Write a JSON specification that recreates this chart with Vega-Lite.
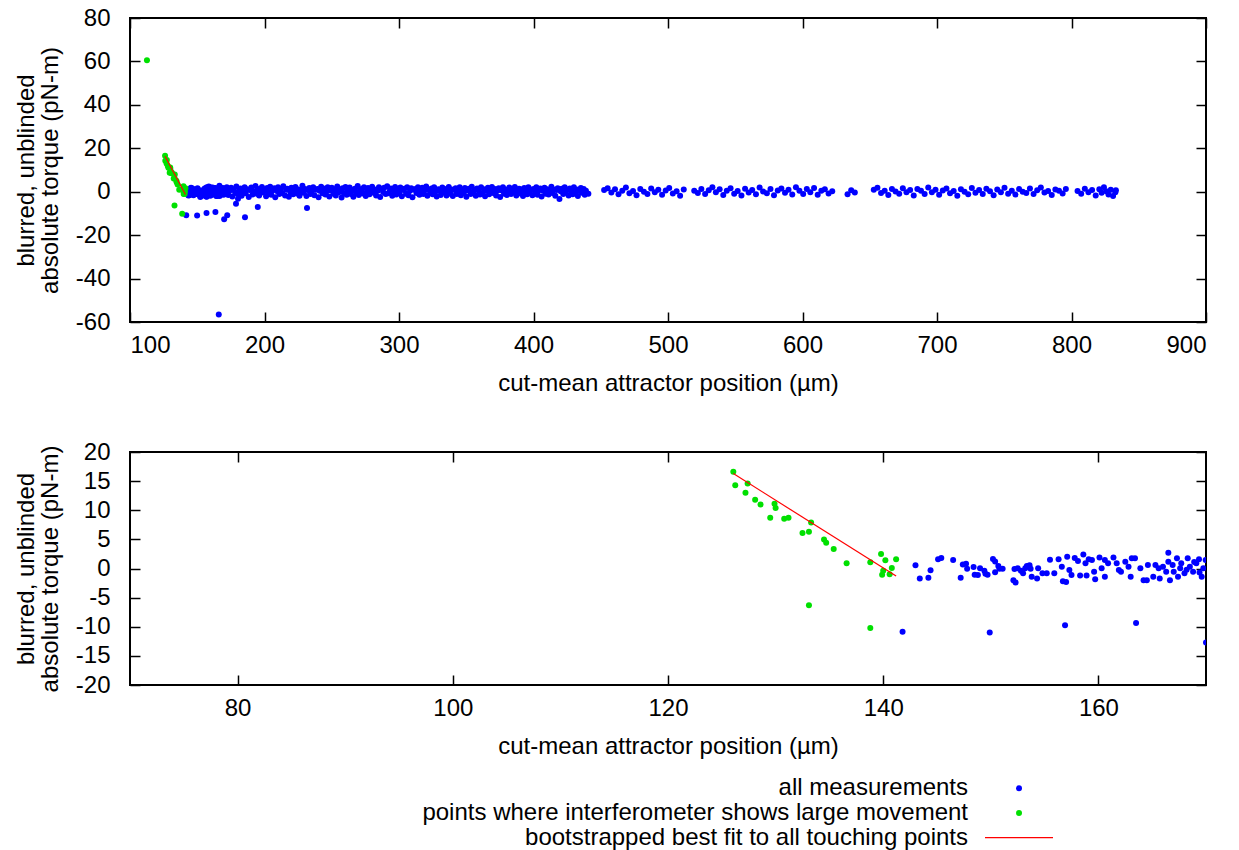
{
  "$schema": "https://vega.github.io/schema/vega-lite/v6.json",
  "background": "white",
  "padding": {"left": 13, "top": 5, "right": 5, "bottom": 5},
  "config": {
    "font": "Liberation Sans",
    "view": {"stroke": "#000", "strokeWidth": 2},
    "axis": {
      "domain": false, "grid": false,
      "labelFont": "Liberation Sans", "labelFontSize": 24, "labelColor": "#000",
      "titleFont": "Liberation Sans", "titleFontSize": 24, "titleFontWeight": "normal", "titleColor": "#000",
      "tickColor": "#000", "tickSize": -10, "tickWidth": 1.5, "labelPadding": 21,
      "labelExpr": "'' + datum.value"
    },
    "axisX": {"titlePadding": 14},
    "axisY": {"titlePadding": 13, "titleLineHeight": 24, "labelPadding": 30}
  },
  "datasets": {
    "meas": [
      {"x":143.0,"y":0.55,"k":"a"},{"x":143.4,"y":-1.7,"k":"a"},{"x":144.2,"y":-1.6,"k":"a"},{"x":144.4,"y":-0.3,"k":"a"},{"x":145.1,"y":1.6,"k":"a"},{"x":145.4,"y":1.8,"k":"a"},{"x":146.5,"y":1.46,"k":"a"},{"x":147.2,"y":-1.6,"k":"a"},{"x":147.4,"y":0.7,"k":"a"},{"x":147.7,"y":0.8,"k":"a"},{"x":147.8,"y":-0.03,"k":"a"},{"x":148.4,"y":0.26,"k":"a"},{"x":148.5,"y":-1.06,"k":"a"},{"x":148.8,"y":-1.1,"k":"a"},{"x":149.0,"y":0.03,"k":"a"},{"x":149.4,"y":-0.4,"k":"a"},{"x":149.5,"y":-0.9,"k":"a"},{"x":149.7,"y":-1.06,"k":"a"},{"x":150.2,"y":1.63,"k":"a"},{"x":150.4,"y":1.2,"k":"a"},{"x":150.7,"y":0.43,"k":"a"},{"x":150.8,"y":-0.03,"k":"a"},{"x":151.1,"y":-0.03,"k":"a"},{"x":150.4,"y":-0.65,"k":"a"},{"x":152.1,"y":-2.0,"k":"a"},{"x":152.3,"y":-2.4,"k":"a"},{"x":152.2,"y":-0.1,"k":"a"},{"x":152.5,"y":0.03,"k":"a"},{"x":152.8,"y":-0.4,"k":"a"},{"x":153.0,"y":-0.8,"k":"a"},{"x":153.2,"y":0.03,"k":"a"},{"x":153.35,"y":0.43,"k":"a"},{"x":153.6,"y":0.55,"k":"a"},{"x":153.7,"y":-0.03,"k":"a"},{"x":153.8,"y":-1.4,"k":"a"},{"x":154.4,"y":0.03,"k":"a"},{"x":154.3,"y":-1.7,"k":"a"},{"x":154.8,"y":-0.8,"k":"a"},{"x":155.2,"y":-0.8,"k":"a"},{"x":155.5,"y":1.5,"k":"a"},{"x":155.9,"y":-0.8,"k":"a"},{"x":156.3,"y":1.6,"k":"a"},{"x":156.6,"y":0.3,"k":"a"},{"x":156.7,"y":-2.2,"k":"a"},{"x":157.0,"y":-2.3,"k":"a"},{"x":157.1,"y":2.0,"k":"a"},{"x":157.3,"y":-0.26,"k":"a"},{"x":157.5,"y":-1.1,"k":"a"},{"x":157.8,"y":1.8,"k":"a"},{"x":158.1,"y":1.3,"k":"a"},{"x":158.3,"y":-1.2,"k":"a"},{"x":158.6,"y":2.4,"k":"a"},{"x":158.8,"y":0.9,"k":"a"},{"x":159.1,"y":1.6,"k":"a"},{"x":159.4,"y":1.46,"k":"a"},{"x":159.6,"y":-0.55,"k":"a"},{"x":158.9,"y":-1.2,"k":"a"},{"x":159.7,"y":-1.85,"k":"a"},{"x":160.1,"y":1.9,"k":"a"},{"x":160.3,"y":0.03,"k":"a"},{"x":160.6,"y":-1.4,"k":"a"},{"x":160.6,"y":1.46,"k":"a"},{"x":160.9,"y":0.9,"k":"a"},{"x":161.4,"y":1.9,"k":"a"},{"x":161.7,"y":0.9,"k":"a"},{"x":161.9,"y":-0.26,"k":"a"},{"x":162.1,"y":-0.55,"k":"a"},{"x":162.5,"y":1.17,"k":"a"},{"x":162.8,"y":0.3,"k":"a"},{"x":163.0,"y":-1.4,"k":"a"},{"x":163.1,"y":1.75,"k":"a"},{"x":163.4,"y":1.75,"k":"a"},{"x":163.9,"y":0.03,"k":"a"},{"x":164.2,"y":-2.0,"k":"a"},{"x":164.5,"y":-2.0,"k":"a"},{"x":164.6,"y":0.6,"k":"a"},{"x":165.1,"y":-1.4,"k":"a"},{"x":165.3,"y":0.6,"k":"a"},{"x":165.6,"y":0.03,"k":"a"},{"x":165.7,"y":-1.7,"k":"a"},{"x":166.0,"y":0.3,"k":"a"},{"x":166.3,"y":-0.55,"k":"a"},{"x":166.5,"y":1.17,"k":"a"},{"x":166.5,"y":2.7,"k":"a"},{"x":166.65,"y":-2.0,"k":"a"},{"x":167.0,"y":-0.55,"k":"a"},{"x":167.3,"y":1.75,"k":"a"},{"x":167.4,"y":-1.4,"k":"a"},{"x":167.6,"y":0.03,"k":"a"},{"x":167.7,"y":0.9,"k":"a"},{"x":168.0,"y":-0.8,"k":"a"},{"x":168.3,"y":1.75,"k":"a"},{"x":168.5,"y":0.3,"k":"a"},{"x":168.8,"y":-0.55,"k":"a"},{"x":169.1,"y":0.9,"k":"a"},{"x":169.35,"y":1.6,"k":"a"},{"x":169.6,"y":-1.4,"k":"a"},{"x":169.75,"y":0.03,"k":"a"},{"x":169.97,"y":1.46,"k":"a"},
      {"x":166.9,"y":0.6,"k":"a"},{"x":168.2,"y":-0.2,"k":"a"},{"x":168.9,"y":1.1,"k":"a"},{"x":169.4,"y":-0.7,"k":"a"},
      {"x":141.8,"y":-10.85,"k":"a"},{"x":149.9,"y":-11.0,"k":"a"},{"x":156.9,"y":-9.76,"k":"a"},{"x":163.5,"y":-9.36,"k":"a"},{"x":170.0,"y":-12.7,"k":"a"},{"x":172.3,"y":-10.8,"k":"a"},{"x":185.5,"y":-11.8,"k":"a"},{"x":166.0,"y":-56.6,"k":"a"},{"x":178.8,"y":-5.5,"k":"a"},{"x":180.3,"y":-3.2,"k":"a"},{"x":195.0,"y":-7.0,"k":"a"},{"x":231.6,"y":-7.5,"k":"a"},
      {"x":170.5,"y":1.2,"k":"a"},{"x":171.2,"y":-0.8,"k":"a"},{"x":172.0,"y":2.1,"k":"a"},{"x":173.1,"y":-1.5,"k":"a"},{"x":174.0,"y":0.4,"k":"a"},{"x":175.2,"y":1.8,"k":"a"},{"x":176.1,"y":-2.2,"k":"a"},{"x":177.0,"y":0.9,"k":"a"},{"x":178.2,"y":-0.3,"k":"a"},{"x":179.1,"y":2.4,"k":"a"},{"x":180.0,"y":-1.1,"k":"a"},{"x":181.3,"y":0.6,"k":"a"},{"x":182.2,"y":1.5,"k":"a"},{"x":183.0,"y":-1.9,"k":"a"},{"x":184.1,"y":0.2,"k":"a"},{"x":185.2,"y":2.0,"k":"a"},{"x":186.0,"y":-0.7,"k":"a"},{"x":187.1,"y":1.1,"k":"a"},{"x":188.3,"y":-2.4,"k":"a"},{"x":189.0,"y":0.8,"k":"a"},{"x":190.2,"y":1.9,"k":"a"},{"x":191.1,"y":-1.3,"k":"a"},{"x":192.0,"y":0.1,"k":"a"},{"x":193.3,"y":2.6,"k":"a"},{"x":194.1,"y":-0.9,"k":"a"},{"x":195.2,"y":1.3,"k":"a"},{"x":196.0,"y":-1.8,"k":"a"},{"x":197.2,"y":0.5,"k":"a"},{"x":198.1,"y":2.2,"k":"a"},{"x":199.0,"y":-0.4,"k":"a"},{"x":200.3,"y":1.0,"k":"a"},{"x":201.2,"y":-2.1,"k":"a"},{"x":202.0,"y":1.7,"k":"a"},{"x":203.1,"y":-0.2,"k":"a"},{"x":204.2,"y":2.3,"k":"a"},{"x":205.0,"y":-1.4,"k":"a"},{"x":206.1,"y":0.7,"k":"a"},{"x":207.3,"y":1.6,"k":"a"},{"x":208.0,"y":-2.6,"k":"a"},{"x":209.2,"y":0.3,"k":"a"},{"x":210.1,"y":2.0,"k":"a"},{"x":211.0,"y":-1.0,"k":"a"},{"x":212.2,"y":1.2,"k":"a"},{"x":213.1,"y":-0.6,"k":"a"},{"x":214.0,"y":2.5,"k":"a"},{"x":215.3,"y":-1.7,"k":"a"},{"x":216.2,"y":0.9,"k":"a"},{"x":217.0,"y":1.4,"k":"a"},{"x":218.1,"y":-2.3,"k":"a"},{"x":219.2,"y":0.0,"k":"a"},{"x":220.0,"y":1.8,"k":"a"},{"x":221.3,"y":-1.2,"k":"a"},{"x":222.1,"y":0.6,"k":"a"},{"x":223.0,"y":2.2,"k":"a"},{"x":224.2,"y":-0.8,"k":"a"},{"x":225.1,"y":1.0,"k":"a"},{"x":226.0,"y":-1.9,"k":"a"},{"x":227.3,"y":0.4,"k":"a"},{"x":228.2,"y":2.7,"k":"a"},{"x":229.0,"y":-0.5,"k":"a"},{"x":230.1,"y":1.3,"k":"a"},{"x":231.2,"y":-2.0,"k":"a"},{"x":232.0,"y":0.8,"k":"a"},{"x":233.3,"y":1.7,"k":"a"},{"x":234.1,"y":-1.1,"k":"a"},{"x":235.0,"y":0.2,"k":"a"},{"x":236.2,"y":2.1,"k":"a"},{"x":237.1,"y":-1.6,"k":"a"},{"x":238.0,"y":0.9,"k":"a"},{"x":239.3,"y":1.2,"k":"a"},{"x":240.2,"y":-2.5,"k":"a"},{"x":241.0,"y":0.5,"k":"a"},{"x":242.1,"y":2.3,"k":"a"},{"x":243.2,"y":-0.7,"k":"a"},{"x":244.0,"y":1.5,"k":"a"},{"x":245.3,"y":-1.3,"k":"a"},{"x":246.1,"y":0.1,"k":"a"},{"x":247.0,"y":2.0,"k":"a"},{"x":248.2,"y":-2.2,"k":"a"},{"x":249.1,"y":0.7,"k":"a"},{"x":250.0,"y":1.8,"k":"a"},{"x":251.3,"y":-0.9,"k":"a"},{"x":252.2,"y":1.1,"k":"a"},{"x":253.0,"y":-1.8,"k":"a"},{"x":254.1,"y":2.4,"k":"a"},{"x":255.2,"y":-0.3,"k":"a"},{"x":256.0,"y":0.9,"k":"a"},{"x":257.3,"y":-2.7,"k":"a"},{"x":258.1,"y":1.6,"k":"a"},{"x":259.0,"y":-0.6,"k":"a"},{"x":260.2,"y":2.2,"k":"a"},{"x":261.1,"y":-1.4,"k":"a"},{"x":262.0,"y":0.4,"k":"a"},{"x":263.3,"y":1.9,"k":"a"},{"x":264.2,"y":-1.0,"k":"a"},{"x":265.0,"y":0.8,"k":"a"},{"x":266.1,"y":-2.3,"k":"a"},{"x":267.2,"y":1.4,"k":"a"},{"x":268.0,"y":-0.2,"k":"a"},{"x":269.3,"y":2.6,"k":"a"},{"x":270.1,"y":-1.5,"k":"a"},{"x":271.0,"y":0.6,"k":"a"},{"x":272.2,"y":1.2,"k":"a"},{"x":273.1,"y":-0.8,"k":"a"},{"x":274.0,"y":2.0,"k":"a"},{"x":275.3,"y":-2.0,"k":"a"},{"x":276.2,"y":0.3,"k":"a"},{"x":277.0,"y":1.7,"k":"a"},{"x":278.1,"y":-1.2,"k":"a"},{"x":279.2,"y":0.9,"k":"a"},{"x":280.0,"y":2.3,"k":"a"},{"x":281.3,"y":-0.5,"k":"a"},{"x":282.1,"y":1.0,"k":"a"},{"x":283.0,"y":-1.7,"k":"a"},{"x":284.2,"y":0.5,"k":"a"},{"x":285.1,"y":2.1,"k":"a"},{"x":286.0,"y":-2.4,"k":"a"},{"x":287.3,"y":1.3,"k":"a"},{"x":288.2,"y":-0.1,"k":"a"},{"x":289.0,"y":1.8,"k":"a"},{"x":290.1,"y":-1.1,"k":"a"},{"x":291.2,"y":2.5,"k":"a"},{"x":292.0,"y":-0.7,"k":"a"},{"x":293.3,"y":0.7,"k":"a"},{"x":294.1,"y":1.5,"k":"a"},{"x":295.0,"y":-1.9,"k":"a"},{"x":296.2,"y":0.2,"k":"a"},{"x":297.1,"y":2.2,"k":"a"},{"x":298.0,"y":-1.3,"k":"a"},{"x":299.3,"y":1.1,"k":"a"},{"x":300.2,"y":-0.4,"k":"a"},{"x":301.0,"y":1.9,"k":"a"},{"x":302.1,"y":-2.1,"k":"a"},{"x":303.2,"y":0.8,"k":"a"},{"x":304.0,"y":1.4,"k":"a"},{"x":305.3,"y":-0.9,"k":"a"},{"x":306.1,"y":2.0,"k":"a"},{"x":307.0,"y":-1.6,"k":"a"},{"x":308.2,"y":0.4,"k":"a"},{"x":309.1,"y":1.6,"k":"a"},{"x":310.0,"y":-2.5,"k":"a"},{"x":311.3,"y":0.9,"k":"a"},{"x":312.2,"y":1.2,"k":"a"},{"x":313.0,"y":-0.6,"k":"a"},{"x":314.1,"y":2.1,"k":"a"},{"x":315.2,"y":-1.4,"k":"a"},{"x":316.0,"y":0.3,"k":"a"},{"x":317.3,"y":1.8,"k":"a"},{"x":318.1,"y":-1.0,"k":"a"},{"x":319.0,"y":0.6,"k":"a"},{"x":320.2,"y":2.4,"k":"a"},{"x":321.1,"y":-1.9,"k":"a"},{"x":322.0,"y":0.9,"k":"a"},{"x":323.3,"y":-0.3,"k":"a"},{"x":324.2,"y":1.5,"k":"a"},{"x":325.0,"y":-1.2,"k":"a"},{"x":326.1,"y":2.0,"k":"a"},{"x":327.2,"y":0.1,"k":"a"},{"x":328.0,"y":-2.2,"k":"a"},{"x":329.3,"y":1.1,"k":"a"},{"x":330.1,"y":0.7,"k":"a"},{"x":331.0,"y":-1.5,"k":"a"},{"x":332.2,"y":1.9,"k":"a"},{"x":333.1,"y":-0.4,"k":"a"},{"x":334.0,"y":1.3,"k":"a"},{"x":335.3,"y":-1.8,"k":"a"},{"x":336.2,"y":0.5,"k":"a"},{"x":337.0,"y":2.2,"k":"a"},{"x":338.1,"y":-0.9,"k":"a"},{"x":339.2,"y":1.0,"k":"a"},{"x":340.0,"y":-2.0,"k":"a"},{"x":341.3,"y":0.8,"k":"a"},{"x":342.1,"y":1.6,"k":"a"},{"x":343.0,"y":-1.1,"k":"a"},{"x":344.2,"y":0.2,"k":"a"},{"x":345.1,"y":2.1,"k":"a"},{"x":346.0,"y":-1.6,"k":"a"},{"x":347.3,"y":0.9,"k":"a"},{"x":348.2,"y":-0.5,"k":"a"},{"x":349.0,"y":1.7,"k":"a"},{"x":350.1,"y":-2.3,"k":"a"},{"x":351.2,"y":0.6,"k":"a"},{"x":352.0,"y":1.4,"k":"a"},{"x":353.3,"y":-1.0,"k":"a"},{"x":354.1,"y":2.3,"k":"a"},{"x":355.0,"y":-0.2,"k":"a"},{"x":356.2,"y":0.8,"k":"a"},{"x":357.1,"y":-1.9,"k":"a"},{"x":358.0,"y":1.5,"k":"a"},{"x":359.3,"y":0.3,"k":"a"},{"x":360.2,"y":-1.3,"k":"a"},{"x":361.0,"y":2.0,"k":"a"},{"x":362.1,"y":-0.7,"k":"a"},{"x":363.2,"y":1.1,"k":"a"},{"x":364.0,"y":-2.1,"k":"a"},{"x":365.3,"y":0.4,"k":"a"},{"x":366.1,"y":1.8,"k":"a"},{"x":367.0,"y":-1.2,"k":"a"},{"x":368.2,"y":0.9,"k":"a"},{"x":369.1,"y":2.2,"k":"a"},{"x":370.0,"y":-0.6,"k":"a"},{"x":371.3,"y":1.2,"k":"a"},{"x":372.2,"y":-1.7,"k":"a"},{"x":373.0,"y":0.5,"k":"a"},{"x":374.1,"y":1.6,"k":"a"},{"x":375.2,"y":-2.4,"k":"a"},{"x":376.0,"y":0.7,"k":"a"},{"x":377.3,"y":2.0,"k":"a"},{"x":378.1,"y":-0.9,"k":"a"},{"x":379.0,"y":1.0,"k":"a"},{"x":380.2,"y":-1.5,"k":"a"},{"x":381.1,"y":0.2,"k":"a"},{"x":382.0,"y":1.9,"k":"a"},{"x":383.3,"y":-1.1,"k":"a"},{"x":384.2,"y":0.8,"k":"a"},{"x":385.0,"y":-0.3,"k":"a"},{"x":386.1,"y":2.2,"k":"a"},{"x":387.2,"y":-1.8,"k":"a"},{"x":388.0,"y":0.6,"k":"a"},{"x":389.3,"y":1.4,"k":"a"},{"x":390.1,"y":-0.8,"k":"a"},{"x":391.0,"y":1.0,"k":"a"},{"x":392.2,"y":-2.0,"k":"a"},{"x":393.1,"y":1.7,"k":"a"},{"x":394.0,"y":0.1,"k":"a"},{"x":395.3,"y":-1.2,"k":"a"},{"x":396.2,"y":2.1,"k":"a"},{"x":397.0,"y":-0.5,"k":"a"},{"x":398.1,"y":0.9,"k":"a"},{"x":399.2,"y":-1.6,"k":"a"},{"x":400.0,"y":1.3,"k":"a"},{"x":401.3,"y":-0.2,"k":"a"},{"x":402.1,"y":2.0,"k":"a"},{"x":403.0,"y":-1.4,"k":"a"},{"x":404.2,"y":0.7,"k":"a"},{"x":405.1,"y":1.5,"k":"a"},{"x":406.0,"y":-2.2,"k":"a"},{"x":407.3,"y":0.4,"k":"a"},{"x":408.2,"y":1.8,"k":"a"},{"x":409.0,"y":-0.9,"k":"a"},{"x":410.1,"y":1.1,"k":"a"},{"x":411.2,"y":-1.3,"k":"a"},{"x":412.0,"y":0.5,"k":"a"},{"x":413.3,"y":2.3,"k":"a"},{"x":414.1,"y":-0.6,"k":"a"},{"x":415.0,"y":1.0,"k":"a"},{"x":416.2,"y":-1.9,"k":"a"},{"x":417.1,"y":0.8,"k":"a"},{"x":418.0,"y":1.6,"k":"a"},{"x":419.3,"y":-3.4,"k":"a"},{"x":420.2,"y":0.2,"k":"a"},{"x":421.0,"y":1.4,"k":"a"},{"x":422.1,"y":-1.0,"k":"a"},{"x":423.2,"y":2.0,"k":"a"},{"x":424.0,"y":-0.4,"k":"a"},{"x":425.3,"y":0.9,"k":"a"},{"x":426.1,"y":-1.7,"k":"a"},{"x":427.0,"y":1.5,"k":"a"},{"x":428.2,"y":0.3,"k":"a"},{"x":429.1,"y":-1.2,"k":"a"},{"x":430.0,"y":2.1,"k":"a"},{"x":431.3,"y":-0.8,"k":"a"},{"x":432.2,"y":1.0,"k":"a"},{"x":433.0,"y":-2.0,"k":"a"},{"x":434.1,"y":0.6,"k":"a"},{"x":435.2,"y":1.7,"k":"a"},{"x":436.0,"y":-0.5,"k":"a"},{"x":437.3,"y":1.2,"k":"a"},{"x":438.1,"y":-1.4,"k":"a"},{"x":439.0,"y":0.4,"k":"a"},
      {"x":440.8,"y":-0.9,"k":"a"},{"x":452.5,"y":0.8,"k":"a"},{"x":455.1,"y":1.6,"k":"a"},{"x":457.9,"y":-0.4,"k":"a"},{"x":460.6,"y":1.1,"k":"a"},{"x":463.2,"y":-1.2,"k":"a"},{"x":466.0,"y":0.5,"k":"a"},{"x":468.7,"y":1.9,"k":"a"},{"x":471.3,"y":-0.7,"k":"a"},{"x":474.0,"y":0.3,"k":"a"},{"x":476.6,"y":-1.6,"k":"a"},{"x":479.4,"y":1.2,"k":"a"},{"x":482.1,"y":0.0,"k":"a"},{"x":484.7,"y":-1.0,"k":"a"},{"x":487.5,"y":1.5,"k":"a"},{"x":490.2,"y":-0.3,"k":"a"},{"x":492.8,"y":0.9,"k":"a"},{"x":495.6,"y":-1.4,"k":"a"},{"x":498.3,"y":0.6,"k":"a"},{"x":500.9,"y":1.7,"k":"a"},{"x":503.6,"y":-0.8,"k":"a"},{"x":506.4,"y":0.2,"k":"a"},{"x":509.0,"y":-1.9,"k":"a"},{"x":511.7,"y":1.0,"k":"a"},{"x":519.5,"y":0.4,"k":"a"},{"x":522.2,"y":-0.6,"k":"a"},{"x":524.8,"y":1.3,"k":"a"},{"x":527.6,"y":-1.1,"k":"a"},{"x":530.3,"y":0.7,"k":"a"},{"x":533.0,"y":2.0,"k":"a"},{"x":535.6,"y":-0.2,"k":"a"},{"x":538.4,"y":1.1,"k":"a"},{"x":541.1,"y":-1.5,"k":"a"},{"x":543.7,"y":0.5,"k":"a"},{"x":546.5,"y":1.6,"k":"a"},{"x":549.2,"y":-0.9,"k":"a"},{"x":551.8,"y":0.3,"k":"a"},{"x":554.6,"y":-1.8,"k":"a"},{"x":557.3,"y":1.4,"k":"a"},{"x":560.0,"y":-0.4,"k":"a"},{"x":562.6,"y":0.8,"k":"a"},{"x":565.4,"y":-1.2,"k":"a"},{"x":568.1,"y":1.9,"k":"a"},{"x":570.7,"y":0.1,"k":"a"},{"x":573.5,"y":-0.7,"k":"a"},{"x":576.2,"y":1.2,"k":"a"},{"x":578.8,"y":-1.6,"k":"a"},{"x":581.6,"y":0.6,"k":"a"},{"x":584.3,"y":1.5,"k":"a"},{"x":587.0,"y":-0.5,"k":"a"},{"x":589.6,"y":0.9,"k":"a"},{"x":592.4,"y":-1.3,"k":"a"},{"x":595.1,"y":2.1,"k":"a"},{"x":597.7,"y":0.4,"k":"a"},{"x":600.5,"y":-1.0,"k":"a"},{"x":603.2,"y":1.3,"k":"a"},{"x":605.8,"y":-0.2,"k":"a"},{"x":608.6,"y":1.7,"k":"a"},{"x":611.3,"y":-1.4,"k":"a"},{"x":614.0,"y":0.5,"k":"a"},{"x":616.6,"y":1.1,"k":"a"},{"x":619.4,"y":-0.8,"k":"a"},{"x":622.1,"y":0.2,"k":"a"},{"x":633.5,"y":-1.2,"k":"a"},{"x":636.2,"y":0.7,"k":"a"},{"x":638.9,"y":-0.4,"k":"a"},{"x":653.0,"y":0.9,"k":"a"},{"x":655.7,"y":1.8,"k":"a"},{"x":658.4,"y":-0.6,"k":"a"},{"x":661.1,"y":0.4,"k":"a"},{"x":663.8,"y":-1.5,"k":"a"},{"x":666.5,"y":1.2,"k":"a"},{"x":669.2,"y":0.1,"k":"a"},{"x":671.9,"y":-0.9,"k":"a"},{"x":674.6,"y":1.6,"k":"a"},{"x":677.3,"y":-0.3,"k":"a"},{"x":680.0,"y":0.8,"k":"a"},{"x":682.7,"y":-1.7,"k":"a"},{"x":685.4,"y":1.3,"k":"a"},{"x":688.1,"y":0.5,"k":"a"},{"x":690.8,"y":-1.1,"k":"a"},{"x":693.5,"y":1.9,"k":"a"},{"x":696.2,"y":-0.2,"k":"a"},{"x":698.9,"y":0.9,"k":"a"},{"x":701.6,"y":-1.4,"k":"a"},{"x":704.3,"y":0.6,"k":"a"},{"x":707.0,"y":1.5,"k":"a"},{"x":709.7,"y":-0.7,"k":"a"},{"x":712.4,"y":0.3,"k":"a"},{"x":715.1,"y":-1.9,"k":"a"},{"x":717.8,"y":1.1,"k":"a"},{"x":720.5,"y":0.0,"k":"a"},{"x":723.2,"y":-1.2,"k":"a"},{"x":725.9,"y":1.7,"k":"a"},{"x":728.6,"y":-0.5,"k":"a"},{"x":731.3,"y":0.8,"k":"a"},{"x":734.0,"y":-1.0,"k":"a"},{"x":736.7,"y":1.4,"k":"a"},{"x":739.4,"y":0.2,"k":"a"},{"x":742.1,"y":-1.6,"k":"a"},{"x":744.8,"y":1.0,"k":"a"},{"x":747.5,"y":-0.3,"k":"a"},{"x":750.2,"y":1.8,"k":"a"},{"x":752.9,"y":-0.9,"k":"a"},{"x":755.6,"y":0.5,"k":"a"},{"x":758.3,"y":-1.3,"k":"a"},{"x":761.0,"y":1.2,"k":"a"},{"x":763.7,"y":0.0,"k":"a"},{"x":766.4,"y":-0.6,"k":"a"},{"x":769.1,"y":1.5,"k":"a"},{"x":771.8,"y":-1.1,"k":"a"},{"x":774.5,"y":0.7,"k":"a"},{"x":777.2,"y":1.9,"k":"a"},{"x":779.9,"y":-0.4,"k":"a"},{"x":782.6,"y":0.3,"k":"a"},{"x":785.3,"y":-1.5,"k":"a"},{"x":788.0,"y":1.0,"k":"a"},{"x":790.7,"y":0.4,"k":"a"},{"x":793.4,"y":-0.8,"k":"a"},{"x":795.8,"y":1.2,"k":"a"},{"x":804.5,"y":0.3,"k":"a"},{"x":807.2,"y":-0.9,"k":"a"},{"x":809.9,"y":1.4,"k":"a"},{"x":812.6,"y":-0.2,"k":"a"},{"x":815.3,"y":0.8,"k":"a"},{"x":818.0,"y":-1.7,"k":"a"},{"x":820.7,"y":1.1,"k":"a"},{"x":822.4,"y":-0.5,"k":"a"},{"x":824.1,"y":2.1,"k":"a"},{"x":825.8,"y":0.2,"k":"a"},{"x":827.5,"y":-1.3,"k":"a"},{"x":829.2,"y":0.9,"k":"a"},{"x":830.9,"y":-2.0,"k":"a"},{"x":832.6,"y":-0.3,"k":"a"},{"x":833.0,"y":0.7,"k":"a"},
      {"x":126.07,"y":16.6,"k":"g"},{"x":126.25,"y":14.3,"k":"g"},{"x":127.4,"y":14.6,"k":"g"},{"x":127.2,"y":13.0,"k":"g"},{"x":128.1,"y":11.8,"k":"g"},{"x":128.6,"y":11.0,"k":"g"},{"x":129.9,"y":11.1,"k":"g"},{"x":130.0,"y":10.4,"k":"g"},{"x":129.5,"y":8.7,"k":"g"},{"x":130.8,"y":8.55,"k":"g"},{"x":131.2,"y":8.7,"k":"g"},{"x":133.3,"y":7.9,"k":"g"},{"x":132.5,"y":6.1,"k":"g"},{"x":133.1,"y":6.3,"k":"g"},{"x":134.5,"y":5.0,"k":"g"},{"x":134.7,"y":4.4,"k":"g"},{"x":135.4,"y":3.35,"k":"g"},{"x":136.6,"y":0.9,"k":"g"},{"x":138.8,"y":1.06,"k":"g"},{"x":139.8,"y":2.5,"k":"g"},{"x":140.2,"y":1.4,"k":"g"},{"x":141.2,"y":1.6,"k":"g"},{"x":140.8,"y":0.1,"k":"g"},{"x":140.0,"y":-0.4,"k":"g"},{"x":139.9,"y":-1.06,"k":"g"},{"x":140.6,"y":-1.0,"k":"g"},{"x":133.1,"y":-6.3,"k":"g"},{"x":138.8,"y":-10.2,"k":"g"},{"x":112.6,"y":60.5,"k":"g"}
    ],
    "fit": [
      {"x":126.07,"y":16.3},{"x":141.2,"y":-1.3}
    ],
    "legend": [
      {"label":"all measurements","k":"a","row":0},
      {"label":"points where interferometer shows large movement","k":"g","row":1},
      {"label":"bootstrapped best fit to all touching points","k":"f","row":2}
    ]
  },
  "vconcat": [
    {
      "vconcat": [
        {
          "width": 1076, "height": 304,
          "layer": [
            {
              "data": {"name": "meas"},
              "mark": {"type": "circle", "size": 36, "opacity": 1, "clip": true},
              "encoding": {
                "x": {"field": "x", "type": "quantitative", "scale": {"domain": [100, 900], "nice": false, "zero": false},
                      "axis": {"values": [100,200,300,400,500,600,700,800,900], "title": "cut-mean attractor position (µm)"}},
                "y": {"field": "y", "type": "quantitative", "scale": {"domain": [-60, 80], "nice": false, "zero": false},
                      "axis": {"values": [-60,-40,-20,0,20,40,60,80], "title": ["blurred, unblinded", "absolute torque (pN-m)"]}},
                "color": {"field": "k", "type": "nominal", "scale": {"domain": ["a","g","f"], "range": ["#0000ff","#00e000","#ff0000"]}, "legend": null}
              }
            },
            {
              "data": {"name": "fit"},
              "mark": {"type": "point", "opacity": 0},
              "encoding": {
                "x": {"field": "x", "type": "quantitative", "axis": {"orient": "top", "labels": false, "title": null, "values": [100,200,300,400,500,600,700,800,900]}},
                "y": {"field": "y", "type": "quantitative", "axis": {"orient": "right", "labels": false, "title": null, "values": [-60,-40,-20,0,20,40,60,80]}}
              }
            },
            {
              "data": {"name": "fit"},
              "mark": {"type": "line", "color": "#ff0000", "strokeWidth": 1.2, "clip": true},
              "encoding": {
                "x": {"field": "x", "type": "quantitative", "axis": null},
                "y": {"field": "y", "type": "quantitative", "axis": null}
              }
            }
          ],
          "resolve": {"axis": {"x": "independent", "y": "independent"}}
        },
        {
          "width": 1076, "height": 233,
          "layer": [
            {
              "data": {"name": "meas"},
              "mark": {"type": "circle", "size": 36, "opacity": 1, "clip": true},
              "encoding": {
                "x": {"field": "x", "type": "quantitative", "scale": {"domain": [70, 170], "nice": false, "zero": false},
                      "axis": {"values": [80,100,120,140,160], "title": "cut-mean attractor position (µm)"}},
                "y": {"field": "y", "type": "quantitative", "scale": {"domain": [-20, 20], "nice": false, "zero": false},
                      "axis": {"values": [-20,-15,-10,-5,0,5,10,15,20], "title": ["blurred, unblinded", "absolute torque (pN-m)"]}},
                "color": {"field": "k", "type": "nominal", "scale": {"domain": ["a","g","f"], "range": ["#0000ff","#00e000","#ff0000"]}, "legend": null}
              }
            },
            {
              "data": {"name": "fit"},
              "mark": {"type": "point", "opacity": 0},
              "encoding": {
                "x": {"field": "x", "type": "quantitative", "axis": {"orient": "top", "labels": false, "title": null, "values": [80,100,120,140,160]}},
                "y": {"field": "y", "type": "quantitative", "axis": {"orient": "right", "labels": false, "title": null, "values": [-20,-15,-10,-5,0,5,10,15,20]}}
              }
            },
            {
              "data": {"name": "fit"},
              "mark": {"type": "line", "color": "#ff0000", "strokeWidth": 1.2, "clip": true},
              "encoding": {
                "x": {"field": "x", "type": "quantitative", "axis": null},
                "y": {"field": "y", "type": "quantitative", "axis": null}
              }
            }
          ],
          "resolve": {"axis": {"x": "independent", "y": "independent"}}
        }
      ],
      "spacing": 43
    },
    {
      "width": 1206, "height": 74,
      "view": {"stroke": null},
      "data": {"name": "legend"},
      "layer": [
        {
          "mark": {"type": "text", "align": "right", "baseline": "middle", "fontSize": 24, "font": "Liberation Sans", "color": "#000"},
          "encoding": {
            "x": {"datum": 838, "type": "quantitative", "scale": {"domain": [0, 1206], "nice": false, "zero": false}, "axis": null},
            "y": {"field": "row", "type": "quantitative", "scale": {"domain": [-0.5, 2.5], "reverse": true, "nice": false, "zero": false}, "axis": null},
            "text": {"field": "label"}
          }
        },
        {
          "transform": [{"filter": "datum.k !== 'f'"}],
          "mark": {"type": "circle", "size": 36, "opacity": 1},
          "encoding": {
            "x": {"datum": 889, "type": "quantitative"},
            "y": {"field": "row", "type": "quantitative"},
            "color": {"field": "k", "type": "nominal", "scale": {"domain": ["a","g","f"], "range": ["#0000ff","#00e000","#ff0000"]}, "legend": null}
          }
        },
        {
          "transform": [{"filter": "datum.k === 'f'"}],
          "mark": {"type": "rule", "color": "#ff0000", "strokeWidth": 1.2},
          "encoding": {
            "x": {"datum": 855, "type": "quantitative"},
            "x2": {"datum": 923},
            "y": {"field": "row", "type": "quantitative"}
          }
        }
      ]
    }
  ],
  "spacing": 17
}
